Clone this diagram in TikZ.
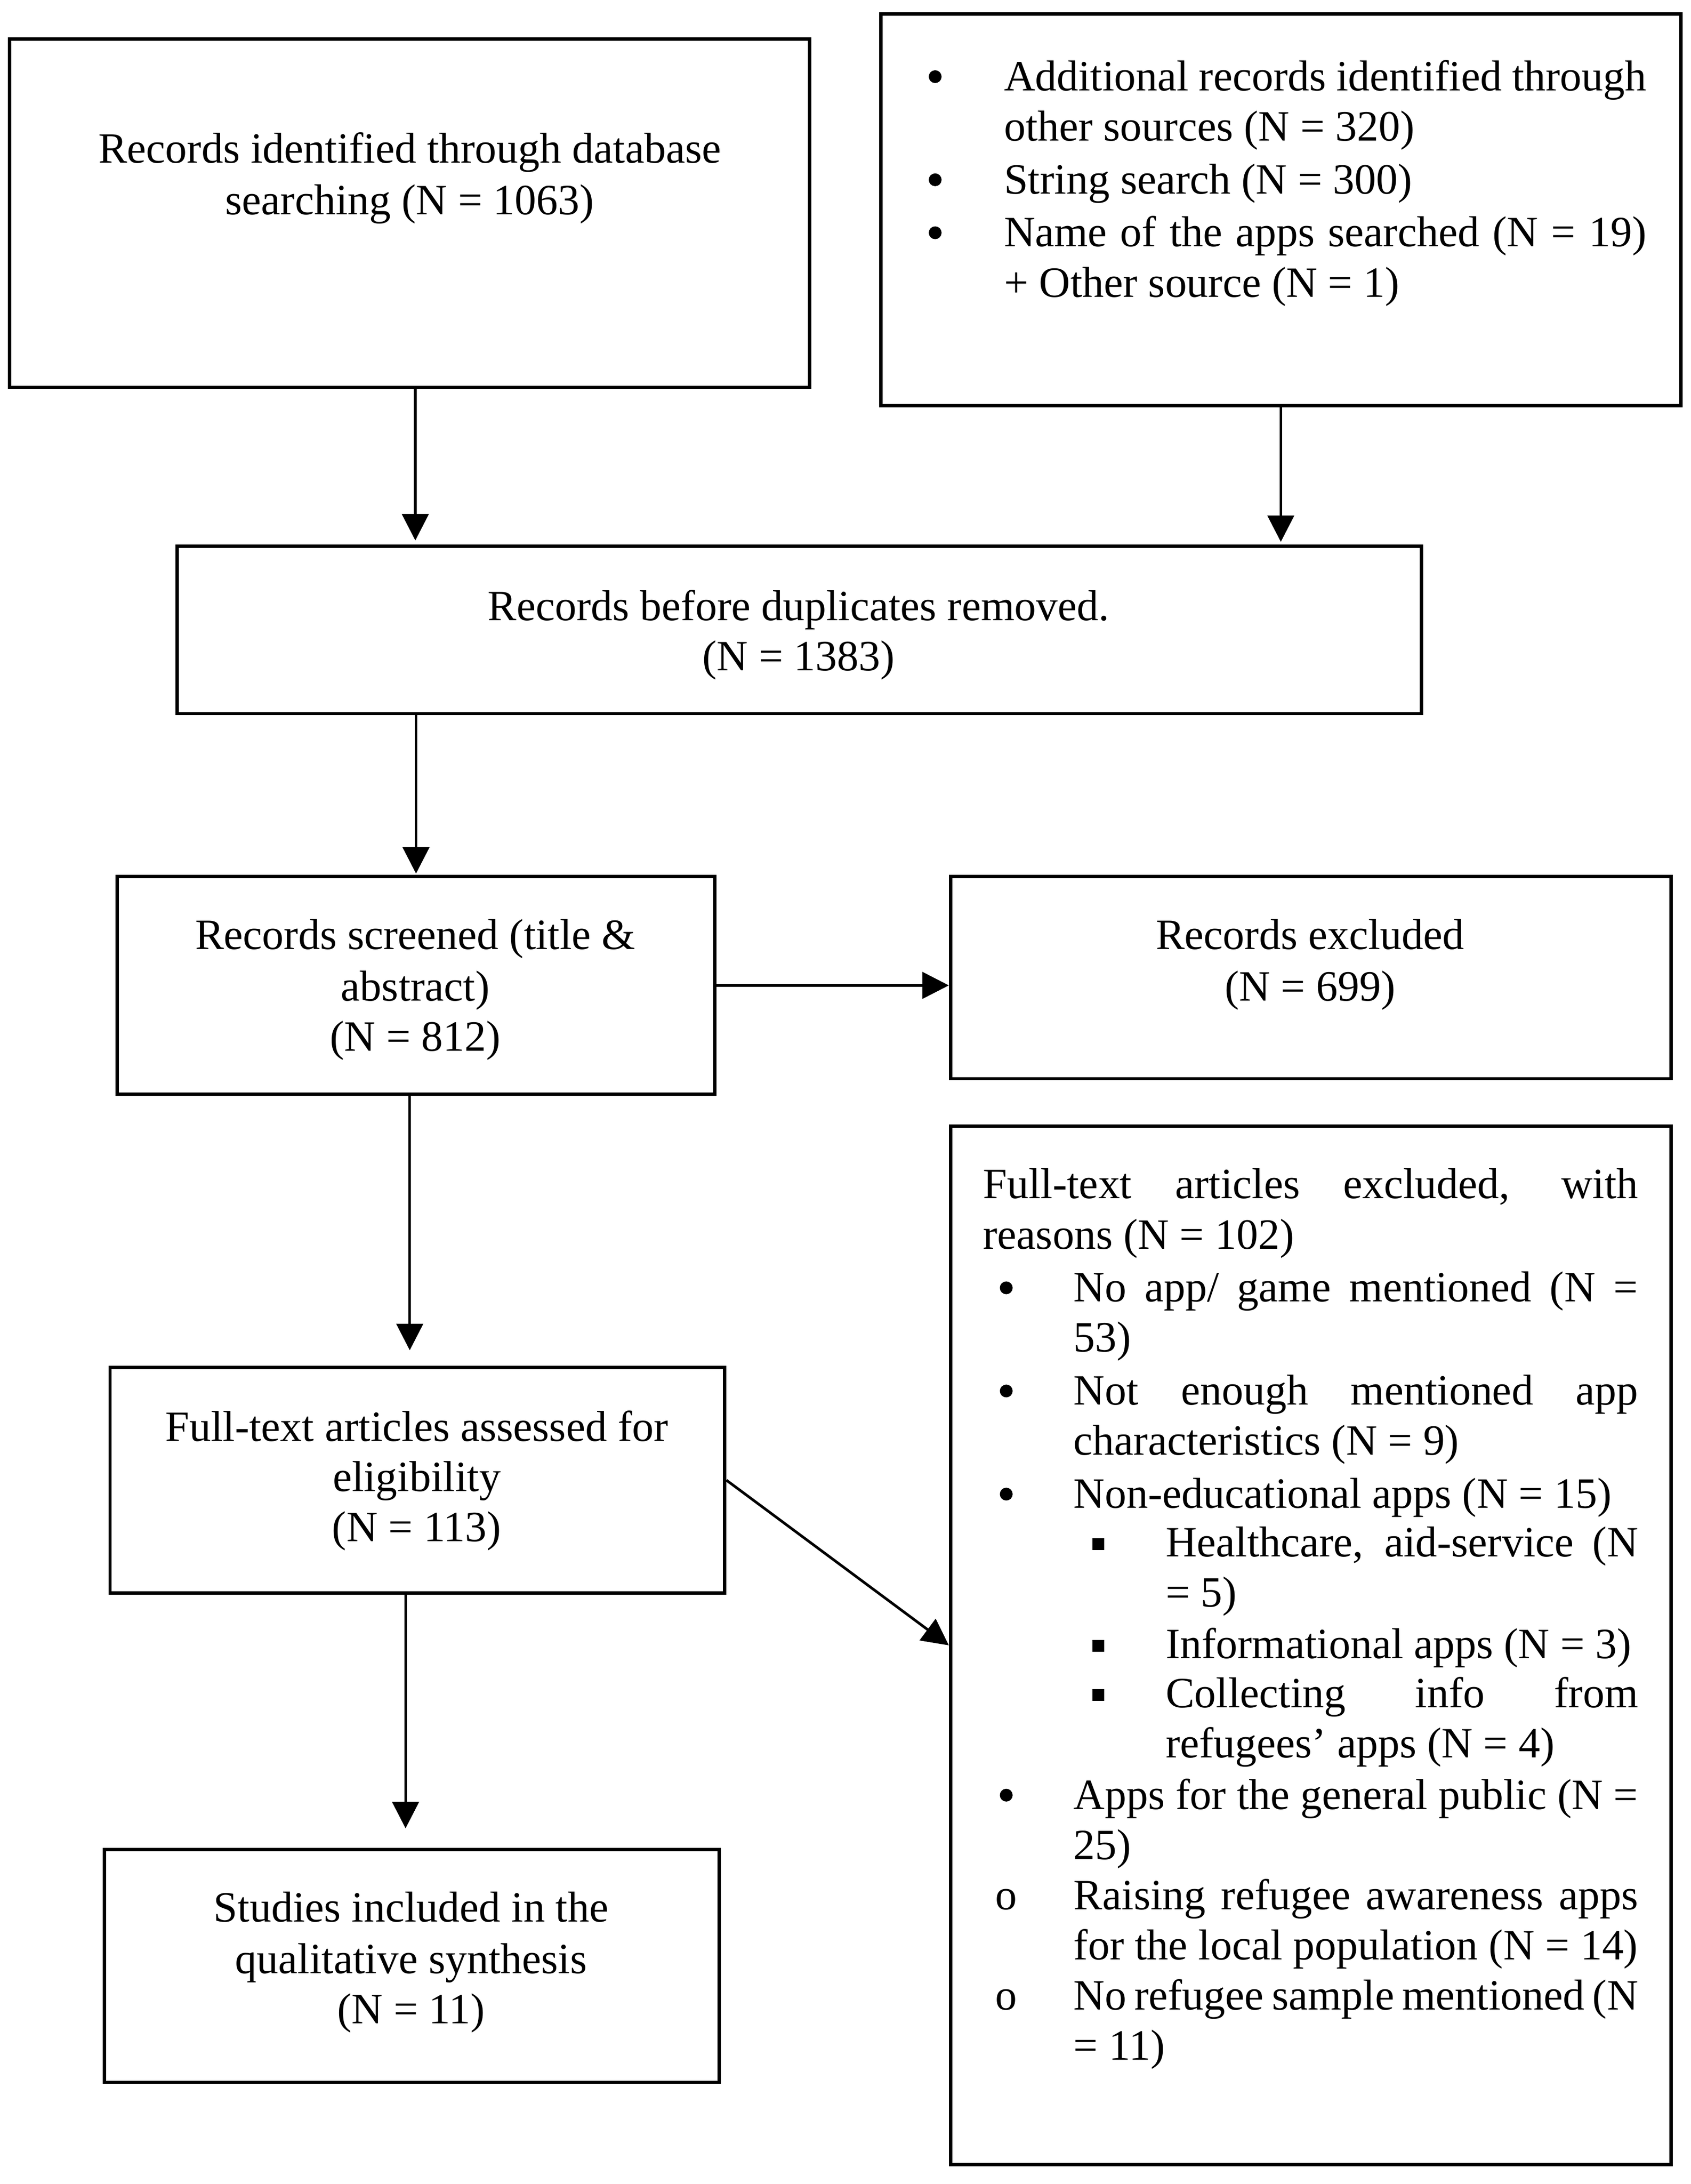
\documentclass[tikz,border=0pt]{standalone}
\usepackage{fontspec}
\setmainfont{Liberation Serif}
\usetikzlibrary{arrows.meta}
\begin{document}
\begin{tikzpicture}[x=0.5pt,y=-0.5pt,
 box/.style={draw, line width=1.2pt, inner sep=0pt, rectangle},
 txt/.style={font=\fontsize{15.5}{18.3}\selectfont, inner sep=0pt, anchor=base},
 ltxt/.style={txt, anchor=base west},
 arr/.style={line width=0.95pt, -{Triangle[length=9.5pt,width=9.5pt]}},
 dot/.style={fill, circle, minimum size=4.6pt, inner sep=0pt},
 sq/.style={fill, minimum size=4.2pt, inner sep=0pt}]
\fill[white] (0,0) rectangle (1213,1567);
\useasboundingbox (0,0) rectangle (1213,1567);

% boxes
\node[box, minimum width=287pt, minimum height=125pt] (b1) at (294,153) {};
\node[box, minimum width=287pt, minimum height=140.5pt] (b2) at (919,150.5) {};
\node[box, minimum width=446.5pt, minimum height=60pt] (b3) at (573.5,452) {};
\node[box, minimum width=214.5pt, minimum height=78pt] (b4) at (298.5,707) {};
\node[box, minimum width=258.5pt, minimum height=72.5pt] (b5) at (940.5,701.5) {};
\node[box, minimum width=220.5pt, minimum height=81pt] (b6) at (299.5,1062) {};
\node[box, minimum width=220.5pt, minimum height=83.5pt] (b7) at (295.5,1410.5) {};
\node[box, minimum width=258.5pt, minimum height=372.5pt] (b8) at (940.5,1180.5) {};

% box 1
\node[txt] (t1a) at (294,117) {Records identified through database};
\node[txt] (t1b) at (294,154) {searching (N = 1063)};

% box 2
\node[dot] (t2d1) at (671,55) {};
\node[dot] (t2d2) at (671,129) {};
\node[dot] (t2d3) at (671,167) {};
\node[ltxt] (t2a) at (720,65) {\makebox[230.5pt][s]{Additional records identified through}};
\node[ltxt] (t2b) at (720,101) {other sources (N = 320)};
\node[ltxt] (t2c) at (720,139) {String search (N = 300)};
\node[ltxt] (t2e) at (720,177) {\makebox[230.5pt][s]{Name of the apps searched (N = 19)}};
\node[ltxt] (t2f) at (720,213) {+ Other source (N = 1)};

% box 3
\node[txt] (t3a) at (573,445) {Records before duplicates removed.};
\node[txt] (t3b) at (573,481) {(N = 1383)};

% box 4
\node[txt] (t4a) at (298,681) {Records screened (title \&};
\node[txt] (t4b) at (298,718) {abstract)};
\node[txt] (t4c) at (298,754) {(N = 812)};

% box 5
\node[txt] (t5a) at (940,681) {Records excluded};
\node[txt] (t5b) at (940,718) {(N = 699)};

% box 6
\node[txt] (t6a) at (299,1034) {Full-text articles assessed for};
\node[txt] (t6b) at (299,1070) {eligibility};
\node[txt] (t6c) at (299,1106) {(N = 113)};

% box 7
\node[txt] (t7a) at (295,1379) {Studies included in the};
\node[txt] (t7b) at (295,1416) {qualitative synthesis};
\node[txt] (t7c) at (295,1452) {(N = 11)};

% box 8
\node[ltxt] (t8a) at (705,860) {\makebox[235pt][s]{Full-text articles excluded, with}};
\node[ltxt] (t8b) at (705,896) {reasons (N = 102)};
\node[dot] (d81) at (722,924) {};
\node[ltxt] (t8c) at (770,934) {\makebox[202.5pt][s]{No app/ game mentioned (N =}};
\node[ltxt] (t8d) at (770,970) {53)};
\node[dot] (d82) at (722,998) {};
\node[ltxt] (t8e) at (770,1008) {\makebox[202.5pt][s]{Not enough mentioned app}};
\node[ltxt] (t8f) at (770,1044) {characteristics (N = 9)};
\node[dot] (d83) at (722,1072) {};
\node[ltxt] (t8g) at (770,1082) {Non-educational apps (N = 15)};
\node[sq] (s81) at (788,1108) {};
\node[ltxt] (t8h) at (836,1117) {\makebox[169.5pt][s]{Healthcare, aid-service (N}};
\node[ltxt] (t8i) at (836,1153) {= 5)};
\node[sq] (s82) at (788,1181) {};
\node[ltxt] (t8j) at (836,1190) {Informational apps (N = 3)};
\node[sq] (s83) at (788,1216) {};
\node[ltxt] (t8k) at (836,1225) {\makebox[169.5pt][s]{Collecting info from}};
\node[ltxt] (t8l) at (836,1261) {refugees’ apps (N = 4)};
\node[dot] (d84) at (722,1288) {};
\node[ltxt] (t8m) at (770,1298) {\makebox[202.5pt][s]{Apps for the general public (N =}};
\node[ltxt] (t8n) at (770,1334) {25)};
\node[txt] (o81) at (722,1370) {o};
\node[ltxt] (t8o) at (770,1370) {\makebox[202.5pt][s]{Raising refugee awareness apps}};
\node[ltxt] (t8p) at (770,1406) {for the local population (N = 14)};
\node[txt] (o82) at (722,1442) {o};
\node[ltxt] (t8q) at (770,1442) {\makebox[202.5pt][s]{No refugee sample mentioned (N}};
\node[ltxt] (t8r) at (770,1478) {= 11)};

% arrows
\draw[arr, shorten >=1.5pt] ([xshift=2pt]b1.south) -- ([xshift=2pt]b1.south |- b3.north);
\draw[arr, shorten >=1pt] (b2.south) -- (b2.south |- b3.north);
\draw[arr, shorten >=0.5pt] (b4.north |- b3.south) -- (b4.north);
\draw[arr] (b4.east) -- (b4.east -| b5.west);
\draw[arr, shorten >=5.5pt] ([xshift=-2.25pt]b4.south) -- ([xshift=-2.25pt]b4.south |- b6.north);
\draw[arr, shorten >=7pt] ([xshift=-4.25pt]b6.south) -- ([xshift=-4.25pt]b6.south |- b7.north);
\draw[arr] (b6.east) -- (b8.west);
\end{tikzpicture}
\end{document}
